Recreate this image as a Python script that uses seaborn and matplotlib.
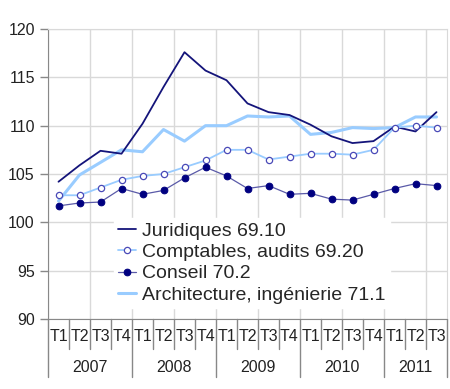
import numpy as np
import pandas as pd
import seaborn as sns
import matplotlib.pyplot as plt

# Quarterly indices, 2007 T1 to 2011 T3
quarters = ["T1", "T2", "T3", "T4"] * 4 + ["T1", "T2", "T3"]
years = ["2007", "2008", "2009", "2010", "2011"]

juridiques = [104.2, 105.9, 107.4, 107.1, 110.2, 114.0, 117.6, 115.7, 114.7, 112.3,
              111.4, 111.1, 110.1, 108.9, 108.2, 108.4, 109.9, 109.4, 111.4]
comptables = [102.8, 102.8, 103.6, 104.4, 104.8, 105.0, 105.7, 106.4, 107.5, 107.5,
              106.5, 106.8, 107.1, 107.1, 107.0, 107.5, 109.8, 110.0, 109.8]
conseil = [101.7, 102.0, 102.1, 103.5, 102.9, 103.3, 104.6, 105.7, 104.8, 103.5,
           103.8, 102.9, 103.0, 102.4, 102.3, 102.9, 103.5, 104.0, 103.8]
architecture = [102.2, 104.9, 106.2, 107.5, 107.3, 109.6, 108.4, 110.0, 110.0, 111.0,
                110.9, 111.0, 109.1, 109.3, 109.8, 109.7, 109.8, 110.9, 110.9]

labels = ["Juridiques 69.10", "Comptables, audits 69.20", "Conseil 70.2",
          "Architecture, ingénierie 71.1"]

sns.set_style("white")
plt.rcParams['font.family'] = ['Liberation Sans', 'DejaVu Sans']

idx = np.arange(len(quarters))
df = pd.DataFrame({"idx": idx, "jur": juridiques, "comp": comptables,
                   "cons": conseil, "arch": architecture})

fig = plt.figure(figsize=(4.5, 3.89), dpi=100)
ax = fig.add_axes([48 / 450, 1 - 319 / 389, 399 / 450, 290 / 389])

sns.lineplot(data=df, x="idx", y="arch", ax=ax, color="#99ccff", linewidth=2.2, zorder=2)
sns.lineplot(data=df, x="idx", y="jur", ax=ax, color="#14147a", linewidth=1.3, zorder=3)
sns.lineplot(data=df, x="idx", y="comp", ax=ax, color="#99ccff", linewidth=1.3,
             marker="o", markersize=4.5, markerfacecolor="white",
             markeredgecolor="#4a4ab8", markeredgewidth=0.9, zorder=4)
sns.lineplot(data=df, x="idx", y="cons", ax=ax, color="#5a5aa8", linewidth=0.9,
             marker="o", markersize=4.8, markerfacecolor="#000080",
             markeredgecolor="#000080", zorder=4)

lines = ax.get_lines()
handles = [lines[1], lines[2], lines[3], lines[0]]
leg = ax.legend(handles, labels, loc="upper left", bbox_to_anchor=(114 / 450, 1 - 218 / 389),
                bbox_transform=fig.transFigure, borderaxespad=0, fontsize=14,
                frameon=True, fancybox=False, framealpha=1, edgecolor="white",
                borderpad=0.2, labelspacing=0.2, handlelength=0.95, handletextpad=0.3)
leg.set_zorder(10)

ax.set_xlim(-0.5, len(quarters) - 0.5)
ax.set_ylim(90, 120)
ax.set_yticks(range(90, 121, 5))
ax.set_xticks(idx)
ax.set_xticklabels(quarters)
ax.set_xticks(np.arange(-0.5, len(quarters), 2), minor=True)
ax.set_xlabel("")
ax.set_ylabel("")
ax.tick_params(axis="x", which="both", length=0, labelsize=11.5, pad=7, colors="#222222")
ax.tick_params(axis="y", length=6, width=1, color="#888888", labelsize=11.5,
               colors="#222222", left=True)
ax.yaxis.grid(True, color="#d9d9d9", linewidth=1)
ax.xaxis.grid(True, which="minor", color="#d9d9d9", linewidth=1)

for side in ["top", "right"]:
    ax.spines[side].set_color("#d9d9d9")
for side in ["left", "bottom"]:
    ax.spines[side].set_color("#888888")

# quarter / year separators below the axis
trans = ax.get_xaxis_transform()
for b in np.arange(-0.5, len(quarters), 1):
    pos = b + 0.5
    is_year = (pos % 4 == 0) or pos == len(quarters)
    low = -58 / 290 if is_year else -30 / 290
    ax.plot([b, b], [0, low], transform=trans, color="#888888", linewidth=1, clip_on=False)

starts = [0, 4, 8, 12, 16]
ends = [4, 8, 12, 16, len(quarters)]
for yr, s, e in zip(years, starts, ends):
    ax.text((s + e - 1) / 2, -48 / 290, yr, transform=trans, ha="center", va="center",
            fontsize=11.5, color="#222222")

fig.savefig("out.png", dpi=100)
